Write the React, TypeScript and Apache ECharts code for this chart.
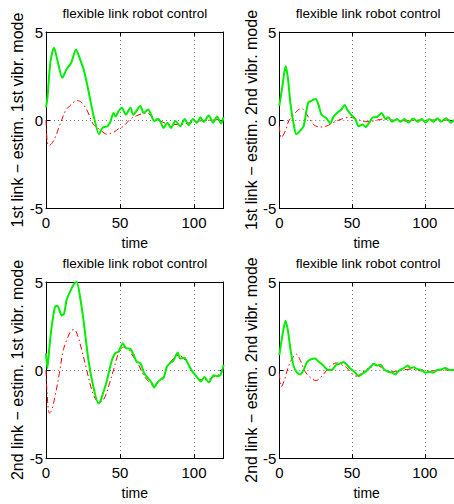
import React, { useEffect, useRef } from "react";
import * as echarts from "echarts";

type P = [number, number];

const xTicks = [0, 50, 100];
const yTicks = [-5, 0, 5];
const titleText = "flexible link robot control";
const xName = "time";
const yNames = [
  "1st link \u2212 estim. 1st vibr. mode",
  "1st link \u2212 estim. 2nd vibr. mode",
  "2nd link \u2212 estim. 1st vibr. mode",
  "2nd link \u2212 estim. 2nd vibr. mode",
];

const tlGreen: P[] = [[0,0.7],[1,1.3],[3,3.3],[5.4,4.1],[8,3.3],[11,2.4],[14,2.9],[17,3.25],[20.3,4.0],[23,3.45],[25.7,2.8],[28.7,1.65],[32,0.3],[35.9,-0.8],[37.7,-0.5],[39,-0.4],[41.5,-0.35],[43.5,-0.1],[45.6,0.4],[47,0.2],[49,0.5],[51.2,0.7],[54,0.3],[57,0.7],[59,0.3],[63.7,0.8],[66,0.4],[69,0.6],[71,0.3],[73,-0.05],[76,0.05],[79.5,-0.45],[82,-0.15],[84.4,-0.45],[87.4,-0.05],[90.7,-0.35],[93.7,0.05],[96.4,-0.3],[99.3,0.05],[102,-0.15],[104.3,0.15],[106.5,-0.1],[110,0.25],[112.9,-0.15],[115.6,0.2],[118.3,-0.2],[120,0.15]];
const tlRed: P[] = [[0,0],[0.8,-1.2],[2,-1.45],[5,-1.2],[9.5,-0.25],[13,0.5],[16,0.8],[20.8,1.1],[24,1.0],[28,0.5],[32,-0.25],[36.6,-0.55],[41,-0.8],[45.6,-0.7],[49,-0.5],[52.4,-0.35],[57,0.05],[61.4,0.25],[68,0.4],[72.7,0.15],[77,-0.05],[84,-0.25],[90.7,-0.25],[97.5,-0.15],[104,-0.05],[113,0],[120,0.05]];
const trGreen: P[] = [[0,0.8],[2,1.85],[4.3,3.05],[5.9,2.4],[7.7,0.9],[9.9,-0.25],[11.7,-0.8],[14.4,-0.6],[16.7,-0.35],[19,0.7],[20,1.0],[22.3,1.1],[25,1.2],[26.8,0.9],[29,0.3],[32.4,0.1],[35,-0.2],[37,0.15],[39.6,0.4],[42.6,0.6],[44.8,0.85],[47,0.55],[49.3,0.3],[52.3,0.05],[54.5,-0.35],[57.2,-0.25],[59.5,-0.4],[61.7,-0.15],[64.4,0.15],[66.7,0.15],[70.3,0.4],[73,0.05],[75,0.15],[77.5,-0.1],[81,0.05],[83,-0.1],[86,0.05],[88.7,-0.15],[92,0.08],[95,-0.1],[97.7,0.05],[100.5,-0.15],[103,0.05],[106,-0.1],[108.5,0.1],[111,-0.1],[114.6,0.1],[118,-0.15],[120,0]];
const trRed: P[] = [[0,-0.35],[1.4,-1.0],[4.3,-0.6],[6.5,-0.05],[9.9,0.3],[13.3,0.6],[15.5,0.65],[19,0.3],[23.4,-0.25],[28,-0.4],[32.4,-0.35],[37,-0.15],[42.6,0.05],[48.2,0.15],[51.6,0.1],[55,0],[59.5,-0.1],[65,-0.05],[70.7,0.05],[77.5,0],[86.5,-0.05],[97.7,0],[108,0],[120,-0.02]];
const blGreen: P[] = [[0,0.95],[0.9,0.1],[2.3,1.3],[3.8,2.45],[6.1,3.6],[7.7,3.65],[10.6,3.1],[12.2,3.2],[14,4.0],[16.3,4.45],[19,4.9],[20.8,5.0],[23,4.15],[25.3,2.85],[28.7,0.55],[32,-0.95],[35.4,-1.9],[36.6,-1.8],[38.8,-1.25],[41,-0.65],[44.5,0.55],[46.7,0.95],[49,1.05],[51.9,1.5],[54,1.25],[57,1.2],[58.7,0.95],[61.4,0.45],[63.7,0.4],[66.4,-0.2],[69.3,-0.5],[71.6,-0.75],[73,-1.0],[75,-0.75],[77.2,-0.55],[79.5,-0.45],[81.7,0.2],[84,0.4],[86.2,0.55],[89,1.0],[90.7,0.65],[93.5,0.7],[95.7,0.4],[98.6,-0.05],[102,-0.4],[104.7,-0.65],[107,-0.4],[110,-0.7],[113.3,-0.3],[115.6,-0.35],[117.8,-0.3],[120,0.3]];
const blRed: P[] = [[0,0],[0.5,-1.0],[2.3,-2.45],[3.8,-2.3],[6.1,-1.5],[9,-0.2],[11.7,1.15],[14,1.7],[16.7,2.2],[19,2.3],[21.2,2.0],[24.1,1.15],[27.5,0],[31,-1.15],[34.3,-1.75],[37,-1.8],[40,-1.5],[42.9,-0.75],[45.6,0],[49,0.95],[52.4,1.3],[55.8,1.15],[59,0.75],[62.5,0.3],[66,-0.3],[69.3,-0.65],[72.7,-0.85],[76,-0.65],[79.5,-0.3],[82.8,0.3],[86.2,0.65],[89.6,0.85],[93,0.65],[96.4,0.3],[99.8,-0.2],[104.3,-0.55],[108.8,-0.55],[113,-0.4],[117,-0.25],[120,0.2]];
const brGreen: P[] = [[0,0.85],[2,1.9],[4.3,2.8],[5.9,2.25],[7.7,1.15],[9.9,0.2],[12.2,-0.15],[14.4,-0.25],[16.7,0],[19,0.45],[21.6,0.6],[24.5,0.65],[26.8,0.5],[30.2,0.25],[33.6,0],[35.8,0],[39.2,0.3],[42.6,0.4],[44,0.45],[46.4,0.3],[48.6,0.1],[51.6,-0.1],[54.5,-0.35],[57.2,-0.2],[59.9,-0.05],[62.8,0.2],[65,0.35],[67.3,0.25],[69.6,0.3],[71.8,0.05],[74.8,-0.1],[77.5,-0.15],[79.7,-0.25],[82,-0.05],[85.4,0.1],[88.3,0.25],[89.9,0.1],[92,0.15],[95,0.05],[97.7,0],[100.5,-0.15],[103.4,-0.1],[105.6,-0.15],[108.5,0],[111,0.03],[114,0.12],[117,0],[120,0]];
const brRed: P[] = [[0,-0.2],[1.4,-0.95],[3.6,-0.55],[5.9,0.1],[8.8,0.65],[11.7,0.9],[14.4,0.55],[17.8,-0.1],[21.6,-0.45],[25.2,-0.6],[28,-0.45],[31.3,-0.15],[34.7,0.2],[39.2,0.4],[42.6,0.3],[46,0.15],[49.3,-0.15],[52.7,-0.35],[56,-0.2],[59.5,0],[62.8,0.15],[66.2,0.25],[70.3,0.15],[74,-0.05],[78.6,-0.1],[84.2,0],[91,0.05],[97.7,-0.05],[104.5,-0.05],[111,0],[118,0],[120,0]];

const greens = [tlGreen, trGreen, blGreen, brGreen];
const reds = [tlRed, trRed, blRed, brRed];

const FONT = "'Liberation Sans', Arial, Helvetica, sans-serif";

export default function App() {
  const ref = useRef<HTMLDivElement>(null);
  useEffect(() => {
    if (!ref.current) return;
    const chart = echarts.init(ref.current, undefined, { renderer: "svg" });
    const grids = [
      { left: 46, top: 32, width: 177.6, height: 176 },
      { left: 279.3, top: 32, width: 177.6, height: 176 },
      { left: 46, top: 282, width: 177.6, height: 176 },
      { left: 279.3, top: 282, width: 177.6, height: 176 },
    ];
    const xMin = xTicks[0];
    const xInt = xTicks[1] - xTicks[0];
    const yMin = yTicks[0];
    const yMax = yTicks[yTicks.length - 1];
    const yInt = yTicks[1] - yTicks[0];
    const black = "#000";
    const split = { show: true, lineStyle: { color: "#777", type: [1, 3], width: 1 } };
    const xAxis: any[] = [];
    const yAxis: any[] = [];
    grids.forEach((_, i) => {
      xAxis.push({
        type: "value", gridIndex: i, min: xMin, max: 120, interval: xInt,
        axisLine: { show: true, onZero: false, lineStyle: { color: black, width: 1 } },
        axisTick: { show: true, inside: true, length: 4, lineStyle: { color: black } },
        axisLabel: { show: true, showMaxLabel: false, color: black, fontFamily: FONT, fontSize: 15, margin: 7 },
        splitLine: split,
        name: xName, nameLocation: "middle", nameGap: 28,
        nameTextStyle: { color: black, fontFamily: FONT, fontSize: 14 },
      });
      yAxis.push({
        type: "value", gridIndex: i, min: yMin, max: yMax, interval: yInt,
        axisLine: { show: true, onZero: false, lineStyle: { color: black, width: 1 } },
        axisTick: { show: true, inside: true, length: 4, lineStyle: { color: black } },
        axisLabel: { show: true, color: black, fontFamily: FONT, fontSize: 15, margin: 3 },
        splitLine: split,
        name: yNames[i], nameLocation: "middle", nameGap: 20,
        nameTextStyle: { color: black, fontFamily: FONT, fontSize: 16 },
      });
    });
    grids.forEach((_, i) => {
      xAxis.push({
        type: "value", gridIndex: i, position: "top", min: xMin, max: 120, interval: xInt,
        axisLine: { show: true, onZero: false, lineStyle: { color: black, width: 1 } },
        axisTick: { show: true, inside: true, length: 4, lineStyle: { color: black } },
        axisLabel: { show: false }, splitLine: { show: false },
      });
      yAxis.push({
        type: "value", gridIndex: i, position: "right", min: yMin, max: yMax, interval: yInt,
        axisLine: { show: true, onZero: false, lineStyle: { color: black, width: 1 } },
        axisTick: { show: true, inside: true, length: 4, lineStyle: { color: black } },
        axisLabel: { show: false }, splitLine: { show: false },
      });
    });
    const series: any[] = [];
    grids.forEach((_, i) => {
      series.push({
        type: "line", xAxisIndex: i, yAxisIndex: i, data: reds[i], showSymbol: false,
        smooth: 0.35, lineStyle: { color: "#ff0000", width: 1, type: [6, 3, 1.5, 3] }, z: 2,
      });
      series.push({
        type: "line", xAxisIndex: i, yAxisIndex: i, data: greens[i], showSymbol: false,
        smooth: 0.25, lineStyle: { color: "#00ee00", width: 2 }, z: 3,
      });
    });
    const title = grids.map((g) => ({
      text: titleText,
      left: g.left + g.width / 2,
      textAlign: "center",
      top: g.top - 26,
      padding: 0,
      textStyle: { color: black, fontFamily: FONT, fontSize: 13.5, fontWeight: "normal" },
    }));
    chart.setOption({
      animation: false,
      backgroundColor: "#fff",
      title,
      grid: grids,
      xAxis,
      yAxis,
      series,
    });
    return () => chart.dispose();
  }, []);
  return (
    <div
      ref={ref}
      style={{ position: "absolute", left: 0, top: 0, width: 454, height: 504, overflow: "hidden" }}
    />
  );
}
